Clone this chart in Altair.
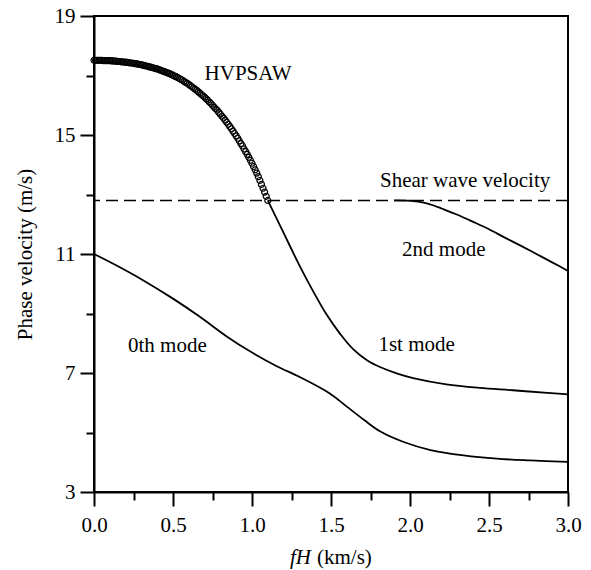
import altair as alt
import pandas as pd

FONT = "Liberation Serif"
FS = 21

# HVPSAW branch (open circles)
hv_x = [0.00, 0.01, 0.02, 0.03, 0.04, 0.05, 0.06, 0.07, 0.08, 0.09,
        0.10, 0.11, 0.12, 0.13, 0.14, 0.15, 0.16, 0.17, 0.18, 0.19,
        0.20, 0.21, 0.22, 0.23, 0.24, 0.25, 0.26, 0.27, 0.28, 0.29,
        0.30, 0.31, 0.32, 0.33, 0.34, 0.35, 0.36, 0.37, 0.38, 0.39,
        0.40, 0.41, 0.42, 0.43, 0.44, 0.45, 0.46, 0.47, 0.48, 0.49,
        0.50, 0.51, 0.52, 0.53, 0.54, 0.55, 0.56, 0.57, 0.58, 0.59,
        0.60, 0.61, 0.62, 0.63, 0.64, 0.65, 0.66, 0.67, 0.68, 0.69,
        0.70, 0.71, 0.72, 0.73, 0.74, 0.75, 0.76, 0.77, 0.78, 0.79,
        0.80, 0.81, 0.82, 0.83, 0.84, 0.85, 0.86, 0.87, 0.88, 0.89,
        0.90, 0.91, 0.92, 0.93, 0.94, 0.95, 0.96, 0.97, 0.98, 0.99,
        1.00, 1.01, 1.02, 1.03, 1.04, 1.05, 1.06, 1.07, 1.08, 1.09, 1.10]
hv_y = [17.51, 17.51, 17.51, 17.51, 17.51, 17.51, 17.50, 17.50, 17.50, 17.50,
        17.50, 17.49, 17.49, 17.48, 17.48, 17.47, 17.47, 17.46, 17.46, 17.45,
        17.45, 17.44, 17.43, 17.42, 17.42, 17.41, 17.40, 17.39, 17.38, 17.37,
        17.36, 17.35, 17.33, 17.32, 17.31, 17.29, 17.28, 17.26, 17.25, 17.23,
        17.22, 17.20, 17.18, 17.16, 17.14, 17.12, 17.10, 17.08, 17.06, 17.03,
        17.01, 16.98, 16.96, 16.93, 16.90, 16.87, 16.84, 16.80, 16.77, 16.74,
        16.70, 16.66, 16.62, 16.58, 16.54, 16.50, 16.45, 16.41, 16.36, 16.32,
        16.27, 16.22, 16.17, 16.11, 16.06, 16.00, 15.94, 15.88, 15.83, 15.76,
        15.70, 15.63, 15.57, 15.50, 15.43, 15.36, 15.28, 15.21, 15.13, 15.05,
        14.97, 14.89, 14.80, 14.71, 14.63, 14.53, 14.44, 14.35, 14.25, 14.15,
        14.05, 13.94, 13.83, 13.72, 13.60, 13.47, 13.34, 13.21, 13.08, 12.94, 12.80]

# Guided modes (solid lines)
mode0_x = [0.00, 0.14, 0.31, 0.50, 0.67, 0.84, 0.99, 1.16, 1.30, 1.49, 1.60,
           1.71, 1.81, 1.96, 2.13, 2.34, 2.55, 2.76, 3.00]
mode0_y = [11.00, 10.62, 10.12, 9.50, 8.89, 8.23, 7.72, 7.22, 6.87, 6.32, 5.87,
           5.42, 5.04, 4.68, 4.41, 4.23, 4.12, 4.06, 4.01]

mode1_x = [1.10, 1.18, 1.25, 1.30, 1.39, 1.47, 1.56, 1.64, 1.73, 1.81, 1.92,
           2.02, 2.23, 2.44, 2.65, 2.87, 3.00]
mode1_y = [12.80, 11.93, 11.16, 10.62, 9.72, 8.98, 8.30, 7.80, 7.42, 7.20, 6.98,
           6.83, 6.62, 6.50, 6.42, 6.33, 6.28]

mode2_x = [1.90, 2.00, 2.05, 2.10, 2.15, 2.20, 2.30, 2.40, 2.50, 2.60, 2.70,
           2.80, 2.90, 3.00]
mode2_y = [12.80, 12.79, 12.76, 12.71, 12.63, 12.53, 12.32, 12.08, 11.83, 11.55,
           11.28, 11.00, 10.72, 10.43]

shear_velocity = 12.8

# Curve annotations
label_text = ["HVPSAW", "Shear wave velocity", "2nd mode", "1st mode", "0th mode"]
label_x = [0.70, 1.81, 1.95, 1.80, 0.215]
label_y = [17.04, 13.44, 11.12, 7.93, 7.90]

x_ticks = [0.0, 0.25, 0.5, 0.75, 1.0, 1.25, 1.5, 1.75, 2.0, 2.25, 2.5, 2.75, 3.0]
y_ticks = [3, 5, 7, 9, 11, 13, 15, 17, 19]

x_major = "abs(round(datum.value * 2) - datum.value * 2) < 1e-6"
y_major = "(datum.value - 3) % 4 == 0"

common_axis = dict(
    grid=False,
    domainColor="black", domainWidth=2,
    tickColor="black", tickWidth=2,
    labelFont=FONT, labelFontSize=FS, labelColor="black",
    labelOverlap=False, labelFlush=False, labelBound=False,
)

x_axis = alt.Axis(
    values=x_ticks,
    labelExpr=f"{x_major} ? format(datum.value, '.1f') : ''",
    tickSize={"condition": {"test": x_major, "value": 14}, "value": 8},
    labelPadding=8,
    title=None,
    **common_axis,
)
y_axis = alt.Axis(
    values=y_ticks,
    labelExpr=f"{y_major} ? datum.label : ''",
    tickSize={"condition": {"test": y_major, "value": 14}, "value": 8},
    labelPadding=5,
    title="Phase velocity (m/s)",
    titleFont=FONT, titleFontSize=FS, titleFontWeight="normal", titleColor="black",
    titleAngle=-90, titleAlign="center", titleBaseline="middle",
    titleX=-69, titleY=238,
    **common_axis,
)

x_enc = alt.X("x:Q", scale=alt.Scale(domain=[0, 3], nice=False, zero=False), axis=x_axis)
y_enc = alt.Y("y:Q", scale=alt.Scale(domain=[3, 19], nice=False, zero=False), axis=y_axis)

hv_df = pd.DataFrame({"x": hv_x, "y": hv_y})
modes_df = pd.concat([
    pd.DataFrame({"x": mode0_x, "y": mode0_y, "mode": "0th"}),
    pd.DataFrame({"x": mode1_x, "y": mode1_y, "mode": "1st"}),
    pd.DataFrame({"x": mode2_x, "y": mode2_y, "mode": "2nd"}),
])
labels_df = pd.DataFrame({"x": label_x, "y": label_y, "text": label_text})

shear = alt.Chart(pd.DataFrame({"y": [shear_velocity]})).mark_rule(
    color="black", strokeWidth=1.6, strokeDash=[12, 6]
).encode(y=y_enc)

modes = alt.Chart(modes_df).mark_line(
    color="black", strokeWidth=1.8, interpolate="catmull-rom"
).encode(x=x_enc, y=y_enc, detail="mode:N")

hv = alt.Chart(hv_df).mark_point(
    shape="circle", filled=False, color="black", size=36, strokeWidth=1.2, opacity=1
).encode(x=x_enc, y=y_enc)

labels = alt.Chart(labels_df).mark_text(
    font=FONT, fontSize=FS, color="black", align="left", baseline="middle"
).encode(x=x_enc, y=y_enc, text="text:N")

# x-axis title, with the italic "fH"
xtitle_fh = alt.Chart(pd.DataFrame({"t": ["fH"]})).mark_text(
    font=FONT, fontSize=FS, fontStyle="italic", color="black", align="left", baseline="middle"
).encode(x=alt.value(196), y=alt.value(542), text="t:N")
xtitle_units = alt.Chart(pd.DataFrame({"t": ["(km/s)"]})).mark_text(
    font=FONT, fontSize=FS, color="black", align="left", baseline="middle"
).encode(x=alt.value(223), y=alt.value(542), text="t:N")

chart = alt.layer(shear, modes, hv, labels, xtitle_fh, xtitle_units).properties(
    width=474, height=476,
    autosize=alt.AutoSizeParams(type="none"),
    padding={"left": 94, "top": 16, "right": 23, "bottom": 78},
    background="white",
).configure_view(stroke="black", strokeWidth=2)

chart.save("out.html", embed_options={"renderer": "svg", "actions": False})
